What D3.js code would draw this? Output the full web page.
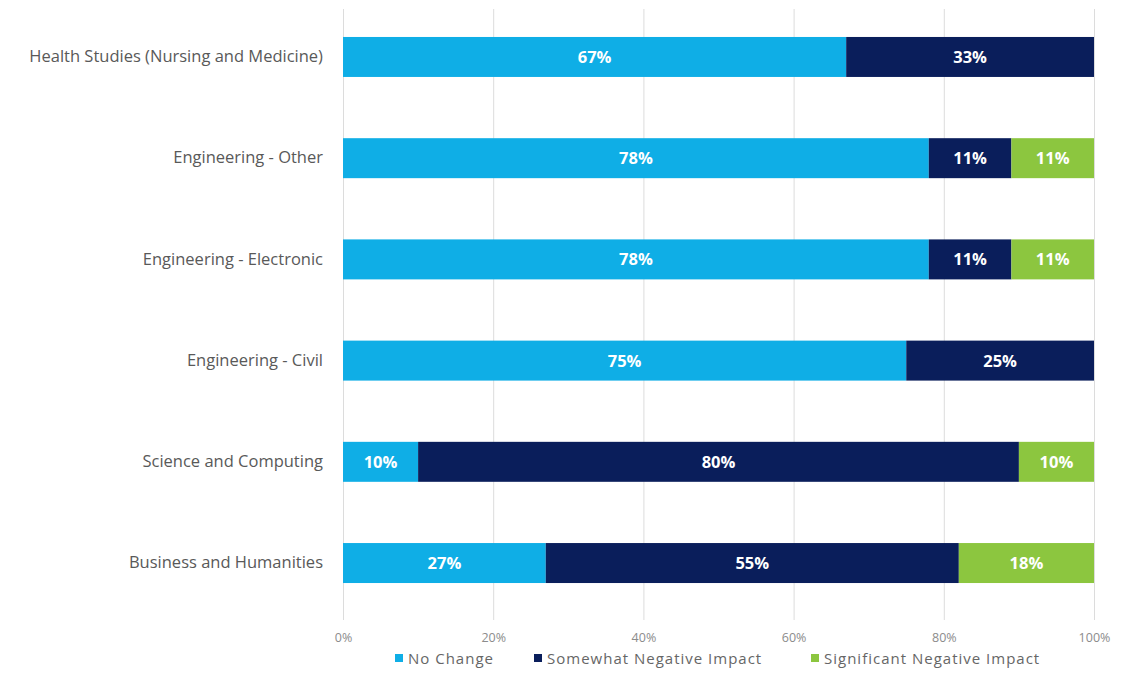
<!DOCTYPE html>
<html>
<head>
<meta charset="utf-8">
<script src="https://cdn.jsdelivr.net/npm/d3@7"></script>
<style>
  html, body { margin: 0; padding: 0; background: #ffffff; }
  svg { display: block; font-family: "Open Sans", "Noto Sans", sans-serif; }
</style>
</head>
<body>
<svg id="chart" width="1136" height="690"></svg>
<script>
// Fields of study, top to bottom
const categories = [
  "Health Studies (Nursing and Medicine)",
  "Engineering - Other",
  "Engineering - Electronic",
  "Engineering - Civil",
  "Science and Computing",
  "Business and Humanities"
];
const seriesNames = ["No Change", "Somewhat Negative Impact", "Significant Negative Impact"];
const noChange = [67, 78, 78, 75, 10, 27];
const somewhatNegative = [33, 11, 11, 25, 80, 55];
const significantNegative = [0, 11, 11, 0, 10, 18];
const tickValues = [0, 20, 40, 60, 80, 100];
const colors = ["#0FAEE6", "#0A1E5B", "#8CC63F"];

const rows = categories.map((c, i) => ({
  category: c,
  "No Change": noChange[i],
  "Somewhat Negative Impact": somewhatNegative[i],
  "Significant Negative Impact": significantNegative[i]
}));
const stacked = d3.stack().keys(seriesNames)(rows);

const svg = d3.select("#chart");
const x = d3.scaleLinear().domain([0, 100]).range([343, 1094]);
const y = d3.scaleBand().domain(categories).range([6, 614])
  .paddingInner(0.605).paddingOuter(0.306);

// vertical gridlines
svg.append("g").selectAll("line").data(tickValues).join("line")
  .attr("x1", d => x(d) + 0.5).attr("x2", d => x(d) + 0.5)
  .attr("y1", 9).attr("y2", 620)
  .attr("stroke", "#dcdcdc").attr("stroke-width", 1);

// tick labels
const xAxis = svg.append("g").attr("transform", "translate(0,620)")
  .call(d3.axisBottom(x).tickValues(tickValues).tickFormat(d => d + "%").tickSize(0).tickPadding(0));
xAxis.select(".domain").remove();
xAxis.selectAll("text").attr("fill", "#8c8c8c").attr("font-size", 12.5)
  .attr("y", 17).attr("dy", "0.36em")
  .attr("font-family", "\"Open Sans\", sans-serif");

// category labels
const yAxis = svg.append("g").attr("transform", "translate(323,0)")
  .call(d3.axisLeft(y).tickSize(0).tickPadding(0));
yAxis.select(".domain").remove();
yAxis.selectAll("text").attr("fill", "#595959").attr("font-size", 16.5)
  .attr("font-family", "\"Open Sans\", sans-serif");

// stacked bars
const layers = svg.append("g").selectAll("g").data(stacked).join("g")
  .attr("fill", (d, i) => colors[i]);
layers.selectAll("rect").data(d => d.filter(p => p[1] - p[0] > 0)).join("rect")
  .attr("x", d => x(d[0]))
  .attr("y", d => y(d.data.category))
  .attr("width", d => x(d[1]) - x(d[0]))
  .attr("height", y.bandwidth());

// value labels
layers.selectAll("text").data(d => d.filter(p => p[1] - p[0] > 0)).join("text")
  .attr("x", d => (x(d[0]) + x(d[1])) / 2)
  .attr("y", d => y(d.data.category) + y.bandwidth() / 2)
  .attr("dy", "0.36em")
  .attr("text-anchor", "middle")
  .attr("fill", "#ffffff")
  .attr("font-weight", "bold")
  .attr("font-size", 16.5)
  .text(d => (d[1] - d[0]) + "%");

// legend
const legendX = [395, 534, 811];
const legend = svg.append("g").selectAll("g").data(seriesNames).join("g")
  .attr("transform", (d, i) => `translate(${legendX[i]},659)`);
legend.append("rect").attr("x", 0).attr("y", -5).attr("width", 8).attr("height", 8)
  .attr("fill", (d, i) => colors[i]);
legend.append("text").attr("x", 13).attr("y", 0).attr("dy", "0.34em")
  .attr("fill", "#666666").attr("font-size", 15).attr("letter-spacing", 1)
  .text(d => d);
</script>
</body>
</html>
